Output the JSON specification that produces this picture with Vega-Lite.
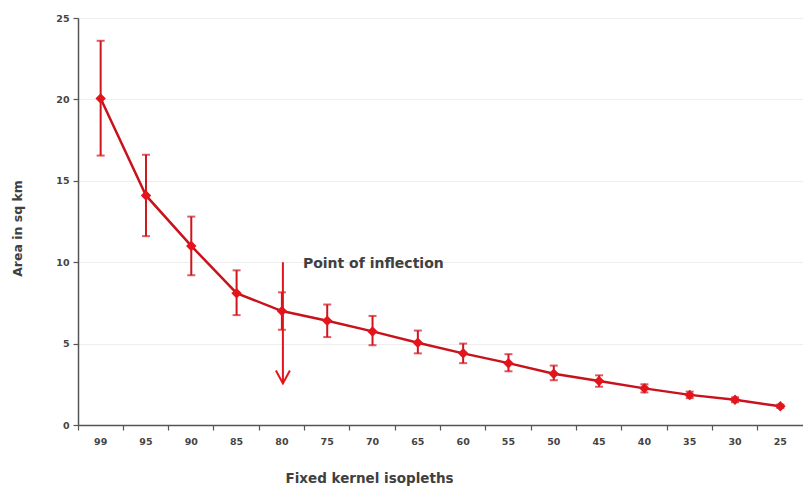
{
  "$schema": "https://vega.github.io/schema/vega-lite/v6.json",
  "autosize": "none",
  "width": 725,
  "height": 407,
  "padding": {"left": 78, "top": 18, "right": 0, "bottom": 62},
  "background": "white",
  "config": {
    "view": {"stroke": null},
    "font": "DejaVu Sans",
    "axis": {
      "domainColor": "#555555",
      "domainWidth": 1.5,
      "tickColor": "#555555",
      "tickWidth": 1.2,
      "tickSize": 5,
      "labelFont": "DejaVu Sans",
      "labelFontWeight": "bold",
      "labelFontSize": 9.5,
      "labelColor": "#444444",
      "titleFont": "DejaVu Sans",
      "titleFontWeight": "bold",
      "titleFontSize": 13.5,
      "titleColor": "#404040"
    },
    "axisY": {
      "grid": true,
      "gridColor": "#eeeeee",
      "gridWidth": 1,
      "labelPadding": 4,
      "titleFontSize": 12.5,
      "titleX": -61,
      "titleY": 210,
      "titleBaseline": "middle"
    }
  },
  "datasets": {
    "areas": [
      {"iso": "99", "area": 20.05, "lo": 16.55, "hi": 23.6},
      {"iso": "95", "area": 14.1, "lo": 11.6, "hi": 16.6},
      {"iso": "90", "area": 11.0, "lo": 9.2, "hi": 12.8},
      {"iso": "85", "area": 8.1, "lo": 6.75, "hi": 9.5},
      {"iso": "80", "area": 7.0, "lo": 5.85, "hi": 8.15},
      {"iso": "75", "area": 6.4, "lo": 5.4, "hi": 7.4},
      {"iso": "70", "area": 5.75, "lo": 4.9, "hi": 6.7},
      {"iso": "65", "area": 5.05, "lo": 4.4, "hi": 5.8},
      {"iso": "60", "area": 4.4, "lo": 3.8, "hi": 5.0},
      {"iso": "55", "area": 3.8, "lo": 3.3, "hi": 4.35},
      {"iso": "50", "area": 3.15, "lo": 2.75, "hi": 3.65},
      {"iso": "45", "area": 2.7, "lo": 2.35, "hi": 3.05},
      {"iso": "40", "area": 2.25, "lo": 2.0, "hi": 2.5},
      {"iso": "35", "area": 1.85, "lo": 1.65, "hi": 2.05},
      {"iso": "30", "area": 1.55, "lo": 1.4, "hi": 1.7},
      {"iso": "25", "area": 1.15, "lo": 1.05, "hi": 1.25}
    ],
    "inflection": [
      {"iso": "80", "top": 10, "tip": 2.55, "label": "Point of inflection"}
    ]
  },
  "encoding": {
    "x": {
      "field": "iso",
      "type": "ordinal",
      "scale": {
        "domain": ["99", "95", "90", "85", "80", "75", "70", "65", "60", "55", "50", "45", "40", "35", "30", "25"],
        "paddingInner": 0,
        "paddingOuter": 0
      },
      "axis": {
        "title": "Fixed kernel isopleths",
        "labelAngle": 0,
        "labelPadding": 6,
        "bandPosition": 0,
        "grid": false,
        "titleX": 291,
        "titleY": 53,
        "titleBaseline": "middle"
      }
    }
  },
  "layer": [
    {
      "data": {"name": "areas"},
      "mark": {"type": "line", "color": "#c8121c", "strokeWidth": 2.5},
      "encoding": {
        "y": {
          "field": "area",
          "type": "quantitative",
          "scale": {"domain": [0, 25], "nice": false},
          "axis": {"title": "Area in sq km", "values": [0, 5, 10, 15, 20, 25]}
        }
      }
    },
    {
      "data": {"name": "areas"},
      "mark": {"type": "rule", "color": "#d0141c", "strokeWidth": 2},
      "encoding": {
        "y": {"field": "lo", "type": "quantitative", "axis": {"title": "Area in sq km", "values": [0, 5, 10, 15, 20, 25]}},
        "y2": {"field": "hi"}
      }
    },
    {
      "data": {"name": "areas"},
      "mark": {"type": "tick", "color": "#d0141c", "size": 8, "thickness": 2},
      "encoding": {
        "y": {"field": "lo", "type": "quantitative", "axis": {"title": "Area in sq km", "values": [0, 5, 10, 15, 20, 25]}}
      }
    },
    {
      "data": {"name": "areas"},
      "mark": {"type": "tick", "color": "#d0141c", "size": 8, "thickness": 2},
      "encoding": {
        "y": {"field": "hi", "type": "quantitative", "axis": {"title": "Area in sq km", "values": [0, 5, 10, 15, 20, 25]}}
      }
    },
    {
      "data": {"name": "areas"},
      "mark": {"type": "point", "shape": "diamond", "filled": true, "color": "#e3141c", "size": 110, "opacity": 1},
      "encoding": {
        "y": {"field": "area", "type": "quantitative", "axis": {"title": "Area in sq km", "values": [0, 5, 10, 15, 20, 25]}}
      }
    },
    {
      "data": {"name": "inflection"},
      "mark": {"type": "rule", "color": "#e3141c", "strokeWidth": 2, "xOffset": 1},
      "encoding": {
        "y": {"field": "top", "type": "quantitative", "axis": {"title": "Area in sq km", "values": [0, 5, 10, 15, 20, 25]}},
        "y2": {"field": "tip"}
      }
    },
    {
      "data": {"name": "inflection"},
      "mark": {"type": "point", "shape": "M-1,-1.85L0,0L1,-1.85", "filled": false, "color": "#e3141c", "strokeWidth": 2, "size": 196, "opacity": 1, "xOffset": 1},
      "encoding": {
        "y": {"field": "tip", "type": "quantitative", "axis": {"title": "Area in sq km", "values": [0, 5, 10, 15, 20, 25]}}
      }
    },
    {
      "data": {"name": "inflection"},
      "mark": {"type": "text", "align": "left", "baseline": "middle", "dx": 21, "dy": 2, "font": "DejaVu Sans", "fontWeight": "bold", "fontSize": 14, "color": "#404040"},
      "encoding": {
        "y": {"field": "top", "type": "quantitative", "axis": {"title": "Area in sq km", "values": [0, 5, 10, 15, 20, 25]}},
        "text": {"field": "label"}
      }
    }
  ]
}
